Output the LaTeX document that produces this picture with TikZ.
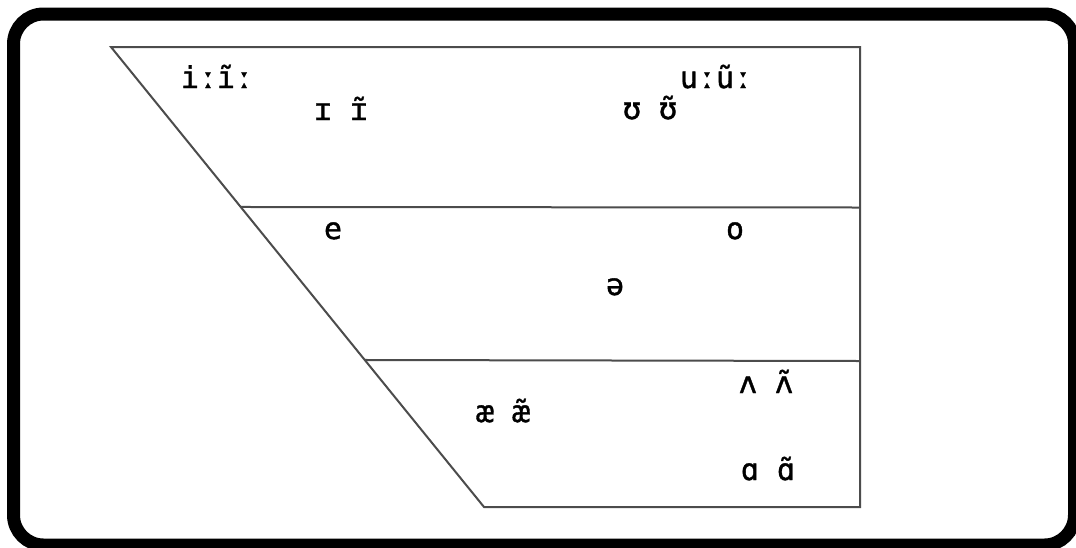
\documentclass[tikz,border=0pt]{standalone}
\usepackage{fontspec}
\usetikzlibrary{calc}
\newfontfamily\ipafont[FakeBold=1.2]{DejaVu Sans Mono}
\begin{document}
\begin{tikzpicture}[x=1pt,y=-1pt,
  frame/.style={line width=13pt,rounded corners=30pt},
  chart/.style={line width=2pt,draw=black!70},
  ipa/.style={anchor=base,inner sep=0pt,font=\ipafont\fontsize{30}{30}\selectfont}]
\useasboundingbox (0,0) rectangle (1076,547);
\clip (0,0) rectangle (1076,547);
\fill[white] (0,0) rectangle (1076,547);
\draw[frame] (13.5,14) rectangle (1074.5,545);
% chart corners
\coordinate (tl) at (111,47);
\coordinate (tr) at (860,47);
\coordinate (br) at (860,507);
\coordinate (bl) at (484,507);
\coordinate (ml) at ($(tl)!0.3478!(bl)$);
\coordinate (mr) at (860,207.5);
\coordinate (ll) at ($(tl)!0.6804!(bl)$);
\coordinate (lr) at (860,361);
\draw[chart,line join=miter] (bl) -- (tl) -- (tr) -- (br) -- cycle;
\draw[chart] (ml) -- (mr);
\draw[chart] (ll) -- (lr);
% vowels
\node[ipa] (ii) at (217,88) {iːĩː};
\node[ipa] (ih) at (341,120) {ɪ ɪ̃};
\node[ipa] (uu) at (716,88) {uːũː};
\node[ipa] (uh) at (650,119) {ʊ ʊ̃};
\node[ipa] (e) at (333,239) {e};
\node[ipa] (o) at (735,239) {o};
\node[ipa] (schwa) at (615,295) {ə};
\node[ipa] (ae) at (503,422) {æ æ̃};
\node[ipa] (wedge) at (766,393) {ʌ ʌ̃};
\node[ipa] (alpha) at (768,480) {ɑ ɑ̃};
\end{tikzpicture}
\end{document}
